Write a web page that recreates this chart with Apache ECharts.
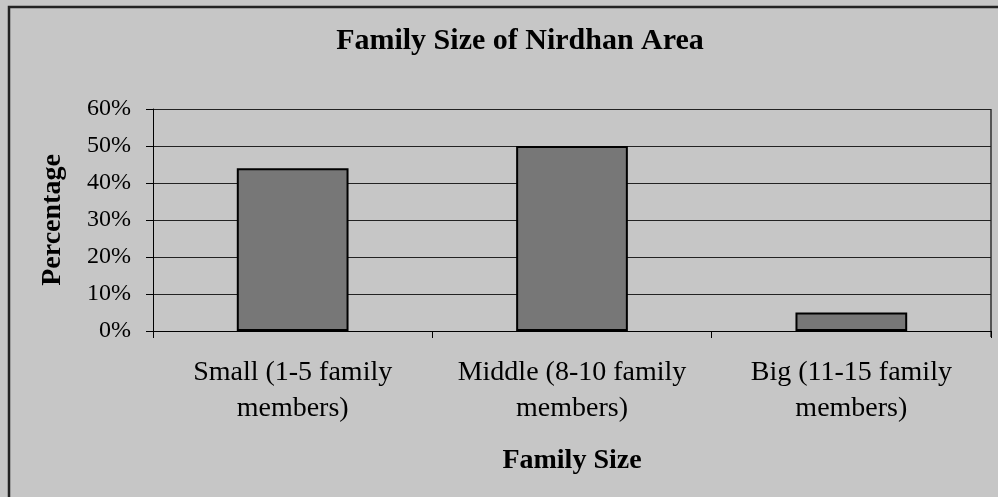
<!DOCTYPE html>
<html>
<head>
<meta charset="utf-8">
<script src="https://cdn.jsdelivr.net/npm/echarts@6/dist/echarts.min.js"></script>
<style>
html,body{margin:0;padding:0;background:#c6c6c6;}
#chart{width:998px;height:497px;}
</style>
</head>
<body>
<div id="chart"></div>
<script>
var categories = ['Small (1-5 family\nmembers)', 'Middle (8-10 family\nmembers)', 'Big (11-15 family\nmembers)'];
var values = [44, 50, 5];
var yTicks = [0, 10, 20, 30, 40, 50, 60];

var chart = echarts.init(document.getElementById('chart'));
var serif = '"Liberation Serif", "Times New Roman", serif';
chart.setOption({
  backgroundColor: '#c6c6c6',
  animation: false,
  title: {
    text: 'Family Size of Nirdhan Area',
    left: 515, top: 21, textAlign: 'center',
    textStyle: {fontFamily: serif, fontWeight: 'bold', fontSize: 30, color: '#000'}
  },
  graphic: [{
    type: 'rect', shape: {x: 9, y: 7, width: 1100, height: 600},
    style: {fill: 'none', stroke: '#222', lineWidth: 2.5}, silent: true
  }, {
    type: 'line', shape: {x1: 991, y1: 109, x2: 991, y2: 337},
    style: {stroke: '#555', lineWidth: 2}, silent: true
  }],
  grid: {left: 153, right: 7, top: 109, bottom: 166, show: false},
  xAxis: {
    type: 'category', data: categories,
    name: 'Family Size', nameLocation: 'middle', nameGap: 116,
    nameTextStyle: {fontFamily: serif, fontWeight: 'bold', fontSize: 28, color: '#000'},
    axisLine: {lineStyle: {color: '#000', width: 1}},
    axisTick: {show: true, length: 7, inside: false, lineStyle: {color: '#000'}},
    axisLabel: {fontFamily: serif, fontSize: 28, color: '#000', margin: 24, lineHeight: 36, interval: 0}
  },
  yAxis: {
    type: 'value', min: yTicks[0], max: yTicks[yTicks.length - 1], interval: 10,
    name: 'Percentage', nameLocation: 'middle', nameGap: 86,
    nameTextStyle: {fontFamily: serif, fontWeight: 'bold', fontSize: 28, color: '#000'},
    axisLine: {show: true, lineStyle: {color: '#000', width: 1}},
    axisTick: {show: true, length: 7, lineStyle: {color: '#000'}},
    axisLabel: {fontFamily: serif, fontSize: 24, color: '#000', margin: 22, formatter: '{value}%'},
    splitLine: {lineStyle: {color: '#222', width: 1}}
  },
  series: [{
    type: 'bar', data: values, barWidth: '40%',
    itemStyle: {color: '#777777', borderColor: '#000', borderWidth: 2}
  }]
});
</script>
</body>
</html>
